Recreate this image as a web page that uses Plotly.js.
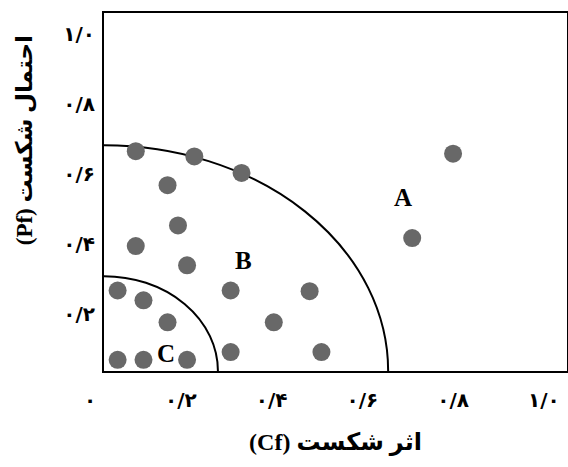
<!DOCTYPE html>
<html>
<head>
<meta charset="utf-8">
<script src="https://cdn.plot.ly/plotly-3.0.1.min.js"></script>
<style>html,body{margin:0;padding:0;background:#fff;}#chart{width:568px;height:467px;}</style>
</head>
<body>
<div id="chart"></div>
<script>
// Data
const pointsCf = [0.070, 0.199, 0.303, 0.140, 0.163, 0.070, 0.183, 0.030, 0.087, 0.279, 0.453, 0.140, 0.374, 0.030, 0.087, 0.183, 0.279, 0.479, 0.679, 0.769];
const pointsPf = [0.628, 0.613, 0.566, 0.531, 0.416, 0.357, 0.302, 0.230, 0.202, 0.230, 0.228, 0.139, 0.139, 0.032, 0.032, 0.032, 0.054, 0.054, 0.380, 0.621];
const zoneLabels = ['A', 'B', 'C'];
const zoneLabelCf = [0.659, 0.308, 0.137];
const zoneLabelPf = [0.496, 0.316, 0.050];
const boundaryRadiusCf = [0.626, 0.251];
const boundaryRadiusPf = [0.645, 0.271];
const xTickVals = [0, 0.2, 0.4, 0.6, 0.8, 1.0];
const xTickText = ['۰', '۰/۲', '۰/۴', '۰/۶', '۰/۸', '۱/۰'];
const yTickVals = [0.2, 0.4, 0.6, 0.8, 1.0];
const yTickText = ['۰/۲', '۰/۴', '۰/۶', '۰/۸', '۱/۰'];
const xTitle = '(Cf) اثر شکست';
const yTitle = '(Pf) احتمال شکست';

const persianFont = 'DejaVu Sans, Noto Sans, sans-serif';
const titleFont = 'Liberation Serif, DejaVu Sans, serif';

const trace = {
  type: 'scatter',
  mode: 'markers',
  x: pointsCf,
  y: pointsPf,
  marker: {color: '#686868', size: 18, line: {width: 0}},
  hoverinfo: 'skip',
  cliponaxis: false
};

const shapes = boundaryRadiusCf.map((rx, i) => ({
  type: 'circle', xref: 'x', yref: 'y',
  x0: -rx, x1: rx, y0: -boundaryRadiusPf[i], y1: boundaryRadiusPf[i],
  line: {color: '#000', width: 2}, layer: 'below'
}));

const annotations = zoneLabels.map((t, i) => ({
  text: '<b>' + t + '</b>', x: zoneLabelCf[i], y: zoneLabelPf[i],
  xref: 'x', yref: 'y', showarrow: false,
  font: {family: titleFont, size: 25, color: '#000'}
}));
annotations.push({
  text: '<b>' + yTitle + '</b>', xref: 'paper', yref: 'paper',
  x: -0.171, y: 0.644, xanchor: 'center', yanchor: 'middle',
  textangle: -90, showarrow: false,
  font: {family: titleFont, size: 23, color: '#000'}
});

const layout = {
  width: 568, height: 467,
  margin: {l: 104, r: 1, t: 13, b: 96},
  paper_bgcolor: '#fff', plot_bgcolor: '#fff',
  showlegend: false,
  xaxis: {
    range: [0, 1.02], showgrid: false, zeroline: false,
    showline: true, linecolor: '#000', linewidth: 2, mirror: true,
    ticks: '', tickvals: xTickVals, ticktext: xTickText,
    tickfont: {family: persianFont, size: 20, color: '#000', weight: 'bold'},
    ticklabelshift: -14, ticklabelstandoff: 10,
    title: {text: '<b>' + xTitle + '</b>', font: {family: titleFont, size: 24, color: '#000'}, standoff: 22}
  },
  yaxis: {
    range: [0, 1.023], showgrid: false, zeroline: false,
    showline: true, linecolor: '#000', linewidth: 2, mirror: true,
    ticks: '', tickvals: yTickVals, ticktext: yTickText,
    tickfont: {family: persianFont, size: 20, color: '#000', weight: 'bold'},
    ticklabelshift: 13, ticklabelstandoff: 3
  },
  shapes: shapes,
  annotations: annotations
};

Plotly.newPlot('chart', [trace], layout, {staticPlot: true, displayModeBar: false});
</script>
</body>
</html>
